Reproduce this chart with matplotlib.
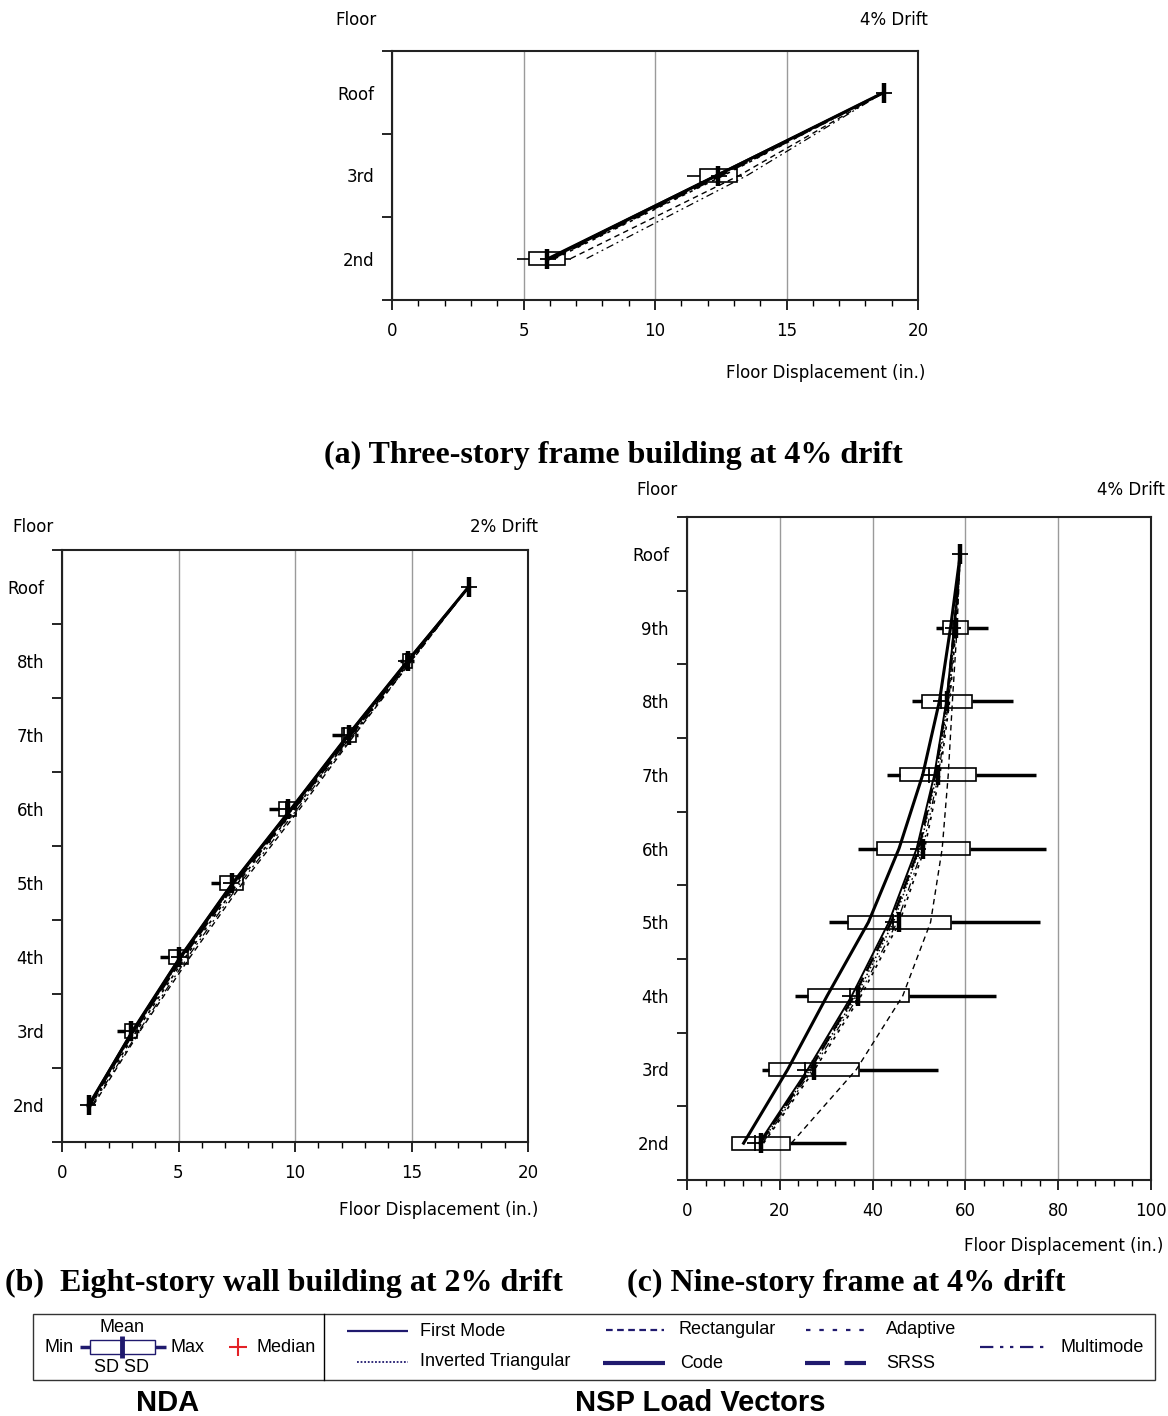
import matplotlib
matplotlib.use("Agg")
import matplotlib.pyplot as plt
from matplotlib.patches import Rectangle
from matplotlib.ticker import MultipleLocator

W, H = 1168, 1416
NAVY = "#201a6e"

# ---------------- (a) three-story frame building, 4% drift ----------------
a_floors = ["2nd", "3rd", "Roof"]
a_levels = [2, 3, 4]
a_mean = [5.9, 12.4, 18.7]
a_sd = [0.68, 0.7, 0.0]
a_min = [4.75, 11.2, 18.7]
a_max = [6.8, 13.3, 18.7]
a_median = [5.95, 12.45, 18.7]
a_first_mode = [5.9, 12.3, 18.7]
a_inv_tri = [6.0, 12.4, 18.7]
a_code = [6.0, 12.35, 18.7]
a_srss = [6.1, 12.5, 18.7]
a_adaptive = [6.2, 12.6, 18.7]
a_multimode = [7.4, 13.5, 18.7]
a_rectangular = [6.8, 13.2, 18.7]

# ---------------- (b) eight-story wall building, 2% drift ----------------
b_floors = ["2nd", "3rd", "4th", "5th", "6th", "7th", "8th", "Roof"]
b_levels = [2, 3, 4, 5, 6, 7, 8, 9]
b_mean = [1.15, 2.97, 5.0, 7.28, 9.68, 12.3, 14.83, 17.45]
b_sd = [0.05, 0.27, 0.4, 0.48, 0.38, 0.3, 0.2, 0.0]
b_min = [1.05, 2.35, 4.19, 6.38, 8.87, 11.6, 14.5, 17.45]
b_max = [1.25, 3.3, 5.45, 7.8, 10.1, 12.7, 15.1, 17.45]
b_median = [1.1, 2.9, 5.0, 7.25, 9.6, 12.1, 14.75, 17.45]
b_first_mode = [1.15, 3.0, 5.05, 7.3, 9.8, 12.25, 14.8, 17.45]
b_code = [1.15, 3.05, 5.1, 7.35, 9.85, 12.3, 14.85, 17.45]
b_inv_tri = [1.2, 3.1, 5.15, 7.4, 9.9, 12.35, 14.9, 17.45]
b_srss = [1.2, 3.1, 5.2, 7.45, 9.95, 12.4, 14.9, 17.45]
b_adaptive = [1.25, 3.2, 5.3, 7.55, 10.0, 12.45, 14.95, 17.45]
b_multimode = [1.3, 3.3, 5.4, 7.65, 10.1, 12.5, 15.0, 17.45]
b_rectangular = [1.35, 3.35, 5.5, 7.75, 10.2, 12.55, 15.0, 17.45]

# ---------------- (c) nine-story frame, 4% drift ----------------
c_floors = ["2nd", "3rd", "4th", "5th", "6th", "7th", "8th", "9th", "Roof"]
c_levels = [2, 3, 4, 5, 6, 7, 8, 9, 10]
c_mean = [15.9, 27.4, 36.9, 45.7, 50.9, 54.0, 56.0, 57.9, 58.9]
c_sd = [6.2, 9.7, 10.9, 11.1, 10.0, 8.2, 5.4, 2.75, 0.0]
c_min = [9.6, 16.2, 23.2, 30.5, 36.8, 43.0, 48.5, 53.6, 58.9]
c_max = [34.3, 54.1, 66.7, 76.1, 77.3, 75.2, 70.3, 64.8, 58.9]
c_median = [14.7, 25.5, 35.1, 44.4, 49.7, 52.1, 54.7, 57.3, 58.9]
c_code = [12.2, 21.7, 30.2, 39.1, 45.7, 50.8, 54.4, 56.8, 58.9]
c_first_mode = [15.5, 26.0, 35.5, 43.5, 49.5, 53.3, 55.9, 57.6, 58.9]
c_inv_tri = [16.0, 26.5, 36.5, 44.5, 50.2, 53.8, 56.2, 57.8, 58.9]
c_srss = [15.8, 26.5, 36.0, 44.0, 50.0, 53.5, 56.0, 57.6, 58.9]
c_multimode = [16.3, 27.0, 37.0, 45.3, 50.8, 54.2, 56.4, 57.9, 58.9]
c_adaptive = [16.5, 27.5, 37.5, 45.8, 51.2, 54.5, 56.6, 58.0, 58.9]
c_rectangular = [22.5, 36.5, 46.5, 52.5, 55.0, 56.3, 57.2, 58.2, 58.9]

line_styles = {
    "First Mode": dict(ls="-", lw=1.4),
    "Inverted Triangular": dict(ls=(0, (1, 1.5)), lw=1.1),
    "Rectangular": dict(ls=(0, (4, 3)), lw=1.0),
    "Code": dict(ls="-", lw=2.2),
    "Adaptive": dict(ls=(0, (2, 3)), lw=1.2),
    "SRSS": dict(ls=(0, (6, 3)), lw=1.8),
    "Multimode": dict(ls=(0, (6, 3, 1.5, 3, 1.5, 3)), lw=0.9),
}

fig = plt.figure(figsize=(W / 100, H / 100), dpi=100)


def rect(x0, y0, x1, y1):
    return [x0 / W, 1 - y1 / H, (x1 - x0) / W, (y1 - y0) / H]


def panel(r, floors, levels, xmax, major, minor, series, mean, sd, mn, mx, med,
          box_h, wlw):
    ax = fig.add_axes(r)
    ax.set_xlim(0, xmax)
    ax.set_ylim(1.5, levels[-1] + 0.5)
    ax.set_xticks([i * major for i in range(int(xmax / major) + 1)])
    ax.xaxis.set_minor_locator(MultipleLocator(minor))
    halves = [l - 0.5 for l in levels] + [levels[-1] + 0.5]
    ax.set_yticks(halves, labels=[""] * len(halves))
    ax.set_yticks(levels, labels=floors, minor=True)
    ax.tick_params(axis="y", which="minor", length=0, pad=13, labelsize=12)
    ax.tick_params(axis="y", which="major", length=7, width=1.2, direction="out")
    ax.tick_params(axis="x", which="major", length=7, width=1.2, pad=9,
                   labelsize=12)
    ax.tick_params(axis="x", which="minor", length=4, width=1.0)
    ax.grid(axis="x", which="major", color="#9a9a9a", lw=1.0)
    for s in ax.spines.values():
        s.set_linewidth(1.5)
        s.set_color("#222222")
    for name, vals in series:
        ax.plot(vals, levels, color="black", zorder=3, **line_styles[name])
    for lv, m, s, lo, hi, md in zip(levels, mean, sd, mn, mx, med):
        if s > 0:
            ax.add_patch(Rectangle((m - s, lv - box_h / 2), 2 * s, box_h,
                                   fill=False, ec="black", lw=1.2, zorder=4))
        if lo < m - s:
            ax.plot([lo, m - s], [lv, lv], color="black", lw=wlw, zorder=4,
                    solid_capstyle="butt")
        if hi > m + s:
            ax.plot([m + s, hi], [lv, lv], color="black", lw=wlw, zorder=4,
                    solid_capstyle="butt")
        ax.plot([m], [lv], marker="|", ms=15, mew=3.2, color="black", zorder=5)
        ax.plot([md], [lv], marker="+", ms=12, mew=1.3, color="black", zorder=5)
    return ax


panel(rect(392, 51, 918, 300), a_floors, a_levels, 20, 5, 1,
      [("Rectangular", a_rectangular), ("Multimode", a_multimode),
       ("Adaptive", a_adaptive), ("SRSS", a_srss), ("Inverted Triangular", a_inv_tri),
       ("First Mode", a_first_mode), ("Code", a_code)],
      a_mean, a_sd, a_min, a_max, a_median, 0.16, 1.2)

panel(rect(62, 550, 528, 1142), b_floors, b_levels, 20, 5, 1,
      [("Rectangular", b_rectangular), ("Multimode", b_multimode),
       ("Adaptive", b_adaptive), ("SRSS", b_srss), ("Inverted Triangular", b_inv_tri),
       ("First Mode", b_first_mode), ("Code", b_code)],
      b_mean, b_sd, b_min, b_max, b_median, 0.18, 2.5)

panel(rect(687, 517, 1151, 1180), c_floors, c_levels, 100, 20, 4,
      [("Rectangular", c_rectangular), ("Multimode", c_multimode),
       ("Adaptive", c_adaptive), ("SRSS", c_srss), ("Inverted Triangular", c_inv_tri),
       ("First Mode", c_first_mode), ("Code", c_code)],
      c_mean, c_sd, c_min, c_max, c_median, 0.18, 2.5)

# overlay in pixel coordinates for free text and the legend
ov = fig.add_axes([0, 0, 1, 1])
ov.set_xlim(0, W)
ov.set_ylim(H, 0)
ov.axis("off")
ov.patch.set_alpha(0)

small = dict(fontsize=12, va="center", family="DejaVu Sans")
ov.text(335, 20, "Floor", ha="left", **small)
ov.text(928, 20, "4% Drift", ha="right", **small)
ov.text(925, 373, "Floor Displacement (in.)", ha="right", **small)
ov.text(12, 527, "Floor", ha="left", **small)
ov.text(538, 527, "2% Drift", ha="right", **small)
ov.text(538, 1210, "Floor Displacement (in.)", ha="right", **small)
ov.text(636, 490, "Floor", ha="left", **small)
ov.text(1165, 490, "4% Drift", ha="right", **small)
ov.text(1163, 1246, "Floor Displacement (in.)", ha="right", **small)

cap = dict(fontsize=23, fontweight="bold", family="Liberation Serif", va="center")
ov.text(613, 455, "(a) Three-story frame building at 4% drift", ha="center", **cap)
ov.text(5, 1283, "(b)  Eight-story wall building at 2% drift", ha="left", **cap)
ov.text(627, 1283, "(c) Nine-story frame at 4% drift", ha="left", **cap)

# legend box
ov.add_patch(Rectangle((33, 1314), 1122, 66, fill=False, ec="#333333", lw=1.0))
ov.plot([324, 324], [1314, 1380], color="black", lw=1.0)
lg = dict(fontsize=13, va="center", family="Liberation Sans")
ov.plot([80, 90], [1347, 1347], color=NAVY, lw=2.5, solid_capstyle="butt")
ov.plot([155, 166], [1347, 1347], color=NAVY, lw=2.5, solid_capstyle="butt")
ov.add_patch(Rectangle((90, 1340), 65, 14, fill=False, ec=NAVY, lw=1.0))
ov.plot([122, 122], [1336, 1358], color=NAVY, lw=3.5, solid_capstyle="butt")
ov.text(74, 1347, "Min", ha="right", **lg)
ov.text(170, 1347, "Max", ha="left", **lg)
ov.text(122, 1328, "Mean", ha="center", **lg)
ov.text(122, 1367, "SD SD", ha="center", **lg)
ov.plot([238], [1347], marker="+", ms=13, mew=1.5, color="#e32126")
ov.text(256, 1347, "Median", ha="left", **lg)

entries = [
    ("First Mode", 347, 408, 1331, 420, dict(ls="-", lw=1.6)),
    ("Inverted Triangular", 357, 408, 1362, 420, dict(ls=(0, (1, 1)), lw=1.3)),
    ("Rectangular", 606, 664, 1330, 679, dict(ls=(0, (3, 2)), lw=1.6)),
    ("Code", 603, 665, 1363, 680, dict(ls="-", lw=3.0)),
    ("Adaptive", 806, 866, 1330, 886, dict(ls=(0, (2, 4)), lw=1.6)),
    ("SRSS", 805, 866, 1363, 886, dict(ls=(0, (6, 3.5)), lw=3.0)),
    ("Multimode", 980, 1045, 1347, 1061, dict(ls=(0, (6, 3, 1.5, 3, 1.5, 3)), lw=1.6)),
]
for label, x0, x1, y, tx, st in entries:
    ov.plot([x0, x1], [y, y], color=NAVY, solid_capstyle="butt", **st)
    ov.text(tx, y, label, ha="left", **lg)

bold = dict(fontsize=21, fontweight="bold", family="Liberation Sans", va="center")
ov.text(168, 1403, "NDA", ha="center", **bold)
ov.text(700, 1403, "NSP Load Vectors", ha="center", **bold)

fig.savefig("out.png", dpi=100)
